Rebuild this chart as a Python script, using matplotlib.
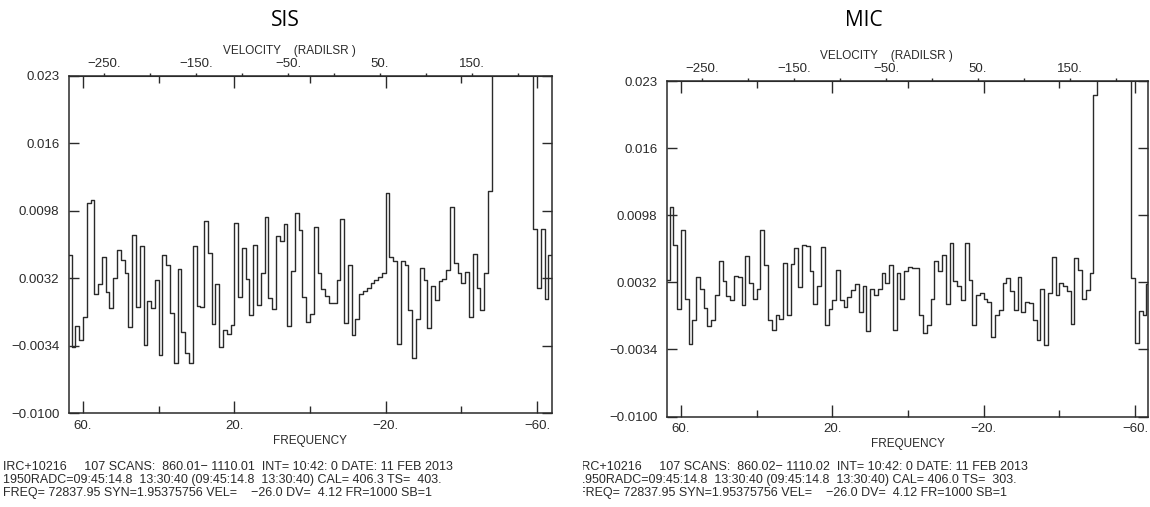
import numpy as np
import matplotlib
matplotlib.use('Agg')
import matplotlib.pyplot as plt
from matplotlib.transforms import Bbox, TransformedBbox

plt.rcParams['font.family'] = ['Liberation Sans', 'DejaVu Sans']

# 1 MHz channels, offset from the line frequency (MHz), high to low
chanEdges = np.arange(64, -65, -1)

OFF = 0.030   # channels that run off the top of the frame

sisTemps = [
    0.0055, -0.0035, -0.0015, -0.0029, -0.0006, 0.0106, 0.0109, 0.0017,
    0.0026, 0.0053, 0.0018, 0.0003, 0.0032, 0.0060, 0.0050, 0.0037,
    -0.0016, 0.0074, 0.0004, 0.0064, -0.0033, 0.0010, 0.0003, 0.0030,
    -0.0043, 0.0055, 0.0045, -0.0002, -0.0051, 0.0041, -0.0021, -0.0041,
    -0.0051, 0.0064, 0.0005, 0.0004, 0.0088, 0.0057, -0.0013, 0.0026,
    -0.0035, -0.0019, -0.0023, -0.0014, 0.0086, 0.0014, 0.0062, 0.0031,
    -0.0004, 0.0065, 0.0006, 0.0037, 0.0092, 0.0013, 0.0002, 0.0073,
    0.0068, 0.0085, -0.0015, 0.0039, 0.0096, 0.0079, 0.0014, -0.0011,
    -0.0003, 0.0082, 0.0037, 0.0021, 0.0015, 0.0008, 0.0008, 0.0030,
    0.0090, -0.0012, 0.0045, -0.0024, -0.0008, 0.0017, 0.0019, 0.0022,
    0.0027, 0.0030, 0.0033, 0.0037, 0.0115, 0.0053, 0.0049, -0.0032,
    0.0049, 0.0045, 0.0001, -0.0046, -0.0008, 0.0042, 0.0030, -0.0017,
    0.0024, 0.0011, 0.0029, 0.0031, 0.0040, 0.0102, 0.0047, 0.0037,
    0.0027, 0.0038, -0.0006, 0.0056, 0.0022, 0.0001, 0.0037, 0.0117,
    OFF, OFF, OFF, OFF, OFF, OFF, OFF, OFF, OFF, OFF, OFF,
    0.0080, 0.0022, 0.0080, 0.0012, 0.0055,
]

micTemps = [
    0.0034, 0.0106, 0.0069, 0.0006, 0.0083, 0.0016, -0.0029, -0.0005,
    0.0037, 0.0025, 0.0007, -0.0011, -0.0005, 0.0020, 0.0053, 0.0033,
    0.0019, 0.0015, 0.0038, 0.0037, 0.0010, 0.0058, 0.0031, 0.0016,
    0.0025, 0.0083, 0.0049, -0.0005, -0.0015, 0.0000, -0.0004, 0.0051,
    0.0000, 0.0050, 0.0066, 0.0027, 0.0069, 0.0068, 0.0043, 0.0011,
    0.0028, 0.0067, -0.0010, 0.0006, 0.0015, 0.0044, 0.0015, 0.0008,
    0.0018, 0.0024, 0.0030, 0.0003, 0.0028, -0.0016, 0.0025, 0.0020,
    0.0025, 0.0041, 0.0031, 0.0049, -0.0015, 0.0041, 0.0016, 0.0043,
    0.0047, 0.0046, 0.0046, 0.0000, -0.0018, -0.0010, 0.0016, 0.0053,
    0.0043, 0.0059, 0.0011, 0.0071, 0.0033, 0.0028, 0.0015, 0.0071,
    0.0034, -0.0010, 0.0020, 0.0021, 0.0016, 0.0013, -0.0022, 0.0000,
    0.0005, 0.0031, 0.0036, 0.0023, 0.0005, 0.0037, 0.0003, 0.0013,
    0.0012, -0.0005, -0.0025, 0.0025, -0.0030, 0.0021, 0.0057, 0.0020,
    0.0031, 0.0028, 0.0023, -0.0009, 0.0056, 0.0044, 0.0016, 0.0024,
    0.0041, 0.0216,
    OFF, OFF, OFF, OFF, OFF, OFF, OFF, OFF, OFF,
    0.0036, -0.0028, 0.0004, 0.0000, 0.0030,
]

yTicks = [-0.0100, -0.0034, 0.0032, 0.0098, 0.0164, 0.023]
yTickLabels = ['\u22120.0100', '\u22120.0034', '0.0032', '0.0098', '0.016', '0.023']
freqMajor = [60, 20, -20, -60]
freqMinor = [40, 0, -40]
freqLabels = ['60.', '20.', '\u221220.', '\u221260.']
velMajor = [-250, -150, -50, 50, 150]
velMinor = [-200, -100, 0, 100, 200]
velLabels = ['\u2212250.', '\u2212150.', '\u221250.', '50.', '150.']

vel0 = -26.0   # VEL= at zero offset
dv = 4.12      # DV= km/s per 1 MHz channel

sisHeader = [
    'IRC+10216     107 SCANS:  860.01\u2212 1110.01  INT= 10:42: 0 DATE: 11 FEB 2013',
    '1950RADC=09:45:14.8  13:30:40 (09:45:14.8  13:30:40) CAL= 406.3 TS=  403.',
    'FREQ= 72837.95 SYN=1.95375756 VEL=    \u221226.0 DV=  4.12 FR=1000 SB=1',
]
micHeader = [
    'IRC+10216     107 SCANS:  860.02\u2212 1110.02  INT= 10:42: 0 DATE: 11 FEB 2013',
    '1950RADC=09:45:14.8  13:30:40 (09:45:14.8  13:30:40) CAL= 406.0 TS=  303.',
    'FREQ= 72837.95 SYN=1.95375756 VEL=    \u221226.0 DV=  4.12 FR=1000 SB=1',
]

INK = '#2a2a2a'


def draw_spectrum(ax, temps, xlim):
    temps = np.asarray(temps)
    ax.step(chanEdges, np.append(temps, temps[-1]), where='post',
            color=INK, lw=1.0)
    ax.set_xlim(*xlim)
    ax.set_ylim(yTicks[0], yTicks[-1])

    for sp in ax.spines.values():
        sp.set_color(INK)
        sp.set_linewidth(1.1)

    ax.set_xticks(freqMajor, labels=freqLabels)
    ax.set_xticks(freqMinor, minor=True)
    ax.tick_params(axis='x', which='major', direction='in', length=8.5,
                   width=1.0, top=True, labelsize=9.5, pad=5, colors=INK)
    ax.tick_params(axis='x', which='minor', direction='in', length=5,
                   width=1.0, top=True, colors=INK)
    ax.set_yticks(yTicks, labels=yTickLabels)
    ax.tick_params(axis='y', direction='in', length=7.5, width=1.0,
                   right=True, labelsize=9.5, pad=7, colors=INK)
    ax.set_xlabel('FREQUENCY', fontsize=8.5, color=INK, labelpad=2)

    sec = ax.secondary_xaxis('top', functions=(lambda f: vel0 - dv * f,
                                                lambda v: (vel0 - v) / dv))
    sec.set_xticks(velMajor, labels=velLabels)
    sec.set_xticks(velMinor, minor=True)
    sec.tick_params(which='both', direction='out', length=2.5, width=1.0,
                    labelsize=9.5, pad=1.5, colors=INK)
    sec.spines['top'].set_color(INK)
    ax.text(0.318, 1.074, 'VELOCITY    (RADILSR )', transform=ax.transAxes,
            ha='left', va='center', fontsize=8.5, color=INK)


fig = plt.figure(figsize=(11.5, 5.07), dpi=100)

axSis = fig.add_axes([0.0600, 0.1854, 0.4200, 0.6647])
draw_spectrum(axSis, sisTemps, (63.7, -63.95))
axMic = fig.add_axes([0.5800, 0.1785, 0.4183, 0.6617])
draw_spectrum(axMic, micTemps, (63.7, -63.45))

fig.text(0.248, 0.960, 'SIS', ha='center', va='center', fontsize=15,
         family=['Open Sans', 'DejaVu Sans'], color='black')
fig.text(0.751, 0.960, 'MIC', ha='center', va='center', fontsize=15,
         family=['Open Sans', 'DejaVu Sans'], color='black')

# run-header text under each spectrum; the right-hand block is cut off on its left
micClip = TransformedBbox(Bbox([[583 / 1150, 0], [1, 1]]), fig.transFigure)
for i in range(3):
    yy = 1 - (467 + 13 * i) / 507
    fig.text(3 / 1150, yy, sisHeader[i], ha='left', va='center',
             fontsize=9, color=INK)
    t = fig.text(578 / 1150, yy, micHeader[i], ha='left', va='center',
                 fontsize=9, color=INK, clip_on=True)
    t.set_clip_box(micClip)

fig.savefig('out.png', dpi=100, facecolor='white')
